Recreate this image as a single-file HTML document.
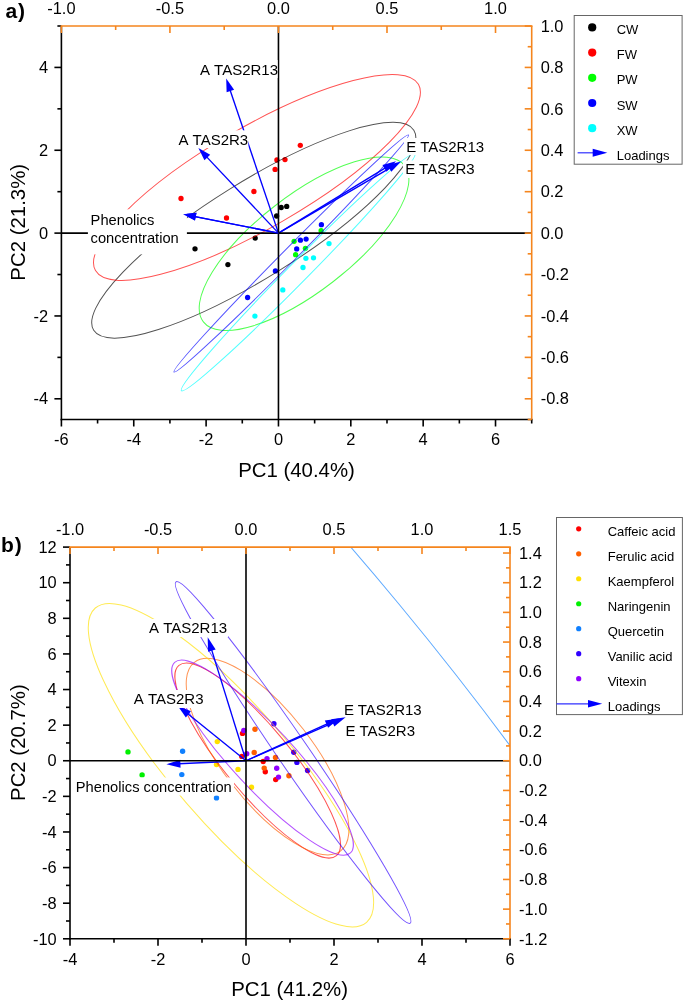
<!DOCTYPE html>
<html><head><meta charset="utf-8"><style>
html,body{margin:0;padding:0;background:#fff;width:685px;height:1003px;overflow:hidden}
svg{display:block}
#w{width:685px;height:1003px;will-change:transform}
text{font-family:"Liberation Sans", sans-serif;fill:#000}
.t{font-size:16.4px}
.ti{font-size:20.4px}
.pl{font-size:21px;font-weight:bold;letter-spacing:0.8px}
.lg{font-size:13px}
.lb{font-size:15px}
.lp{font-size:14.7px}
</style></head><body>
<div id="w">
<svg width="685" height="1003" viewBox="0 0 685 1003">
<rect width="685" height="1003" fill="#fff"/>
<defs><clipPath id="cb"><rect x="70" y="547.1" width="440" height="391.7"/></clipPath><clipPath id="ca"><rect x="61.4" y="26" width="470.3" height="393.5"/></clipPath></defs>
<circle cx="281.2" cy="207.5" r="2.65" fill="#000000"/>
<circle cx="286.7" cy="206.4" r="2.65" fill="#000000"/>
<circle cx="276.6" cy="216" r="2.65" fill="#000000"/>
<circle cx="255.2" cy="238.1" r="2.65" fill="#000000"/>
<circle cx="227.9" cy="264.6" r="2.65" fill="#000000"/>
<circle cx="195" cy="248.8" r="2.65" fill="#000000"/>
<circle cx="300.3" cy="145.3" r="2.65" fill="#ff0000"/>
<circle cx="276.9" cy="160" r="2.65" fill="#ff0000"/>
<circle cx="285" cy="159.6" r="2.65" fill="#ff0000"/>
<circle cx="275.1" cy="169.4" r="2.65" fill="#ff0000"/>
<circle cx="253.9" cy="191.5" r="2.65" fill="#ff0000"/>
<circle cx="181" cy="198.5" r="2.65" fill="#ff0000"/>
<circle cx="226.5" cy="218" r="2.65" fill="#ff0000"/>
<circle cx="321.1" cy="230.7" r="2.65" fill="#00ff00"/>
<circle cx="294.1" cy="241.3" r="2.65" fill="#00ff00"/>
<circle cx="305.4" cy="248.3" r="2.65" fill="#00ff00"/>
<circle cx="295.6" cy="254.7" r="2.65" fill="#00ff00"/>
<circle cx="321.4" cy="224.7" r="2.65" fill="#0000ff"/>
<circle cx="300.4" cy="240.2" r="2.65" fill="#0000ff"/>
<circle cx="306.1" cy="239.1" r="2.65" fill="#0000ff"/>
<circle cx="296.7" cy="248.9" r="2.65" fill="#0000ff"/>
<circle cx="275.4" cy="270.9" r="2.65" fill="#0000ff"/>
<circle cx="247.6" cy="297.5" r="2.65" fill="#0000ff"/>
<circle cx="329" cy="243.6" r="2.65" fill="#00ffff"/>
<circle cx="305.9" cy="258.3" r="2.65" fill="#00ffff"/>
<circle cx="313.5" cy="257.8" r="2.65" fill="#00ffff"/>
<circle cx="303" cy="267.5" r="2.65" fill="#00ffff"/>
<circle cx="282.8" cy="289.9" r="2.65" fill="#00ffff"/>
<circle cx="254.9" cy="316.1" r="2.65" fill="#00ffff"/>
<g clip-path="url(#ca)">
<ellipse cx="253.77" cy="230.23" rx="188.78" ry="47.66" transform="rotate(147.99 253.77 230.23)" fill="none" stroke="#000000" stroke-width="1.0" stroke-opacity="0.68"/>
<ellipse cx="256.96" cy="177.47" rx="186.40" ry="50.65" transform="rotate(150.03 256.96 177.47)" fill="none" stroke="#ff0000" stroke-width="1.0" stroke-opacity="0.68"/>
<ellipse cx="304.05" cy="243.75" rx="127.42" ry="47.80" transform="rotate(142.20 304.05 243.75)" fill="none" stroke="#00ff00" stroke-width="1.0" stroke-opacity="0.68"/>
<ellipse cx="291.27" cy="253.55" rx="166.72" ry="6.69" transform="rotate(134.69 291.27 253.55)" fill="none" stroke="#0000ff" stroke-width="1.0" stroke-opacity="0.68"/>
<ellipse cx="298.18" cy="272.20" rx="166.38" ry="9.96" transform="rotate(134.56 298.18 272.20)" fill="none" stroke="#00ffff" stroke-width="1.0" stroke-opacity="0.68"/>
</g>
<line x1="278.46" y1="233.11" x2="229.72" y2="89.02" stroke="#0000ff" stroke-width="1.35"/>
<path d="M226.20,78.60 L234.11,89.65 L226.62,92.18 Z" fill="#0000ff"/>
<line x1="278.46" y1="233.11" x2="205.94" y2="156.11" stroke="#0000ff" stroke-width="1.35"/>
<path d="M198.40,148.10 L210.19,154.86 L204.44,160.27 Z" fill="#0000ff"/>
<line x1="278.46" y1="233.11" x2="193.79" y2="216.34" stroke="#0000ff" stroke-width="1.35"/>
<path d="M183.00,214.20 L196.52,212.85 L194.98,220.60 Z" fill="#0000ff"/>
<line x1="278.46" y1="233.11" x2="391.07" y2="167.30" stroke="#0000ff" stroke-width="1.35"/>
<path d="M401.00,161.50 L391.31,171.68 L387.38,164.94 Z" fill="#0000ff"/>
<line x1="278.46" y1="233.11" x2="386.19" y2="167.30" stroke="#0000ff" stroke-width="1.35"/>
<path d="M396.00,161.30 L386.51,171.67 L382.45,165.01 Z" fill="#0000ff"/>
<line x1="61.4" y1="233.11" x2="531.7" y2="233.11" stroke="#000" stroke-width="1.6"/>
<line x1="278.46" y1="26" x2="278.46" y2="419.5" stroke="#000" stroke-width="1.6"/>
<rect x="197.5" y="60" width="80.10" height="18.00" fill="#fff"/>
<text x="199.90" y="74.70" class="lb">A <tspan dx="1.1">TAS2R13</tspan></text>
<rect x="176" y="130.3" width="72.30" height="17.70" fill="#fff"/>
<text x="178.40" y="144.50" class="lb">A <tspan dx="1.1">TAS2R3</tspan></text>
<rect x="404" y="138" width="82.00" height="17.00" fill="#fff"/>
<text x="406.30" y="151.70" class="lb">E TAS2R13</text>
<rect x="403" y="160.5" width="74.00" height="17.50" fill="#fff"/>
<text x="405.20" y="174.20" class="lb">E TAS2R3</text>
<rect x="87.9" y="209.3" width="99.00" height="45.00" fill="#fff"/>
<text x="90.60" y="224.50" class="lp">Phenolics</text>
<text x="90.60" y="242.60" class="lp">concentration</text>
<line x1="278.46" y1="233.11" x2="193.79" y2="216.34" stroke="#0000ff" stroke-width="1.35"/>
<path d="M183.00,214.20 L196.52,212.85 L194.98,220.60 Z" fill="#0000ff"/>
<circle cx="242.5" cy="733.4" r="2.7" fill="#ff0000"/>
<circle cx="241.8" cy="756.4" r="2.7" fill="#ff0000"/>
<circle cx="263.2" cy="761.5" r="2.7" fill="#ff0000"/>
<circle cx="265.3" cy="771.7" r="2.7" fill="#ff0000"/>
<circle cx="275.7" cy="779.6" r="2.7" fill="#ff0000"/>
<circle cx="255" cy="729.3" r="2.7" fill="#ff6000"/>
<circle cx="254.2" cy="752.5" r="2.7" fill="#ff6000"/>
<circle cx="275.5" cy="757.4" r="2.7" fill="#ff6000"/>
<circle cx="264.2" cy="768.1" r="2.7" fill="#ff6000"/>
<circle cx="288.9" cy="775.8" r="2.7" fill="#ff6000"/>
<circle cx="217.3" cy="741.6" r="2.7" fill="#ffe000"/>
<circle cx="216.5" cy="764.6" r="2.7" fill="#ffe000"/>
<circle cx="238" cy="769.4" r="2.7" fill="#ffe000"/>
<circle cx="251.5" cy="787.3" r="2.7" fill="#ffe000"/>
<circle cx="128" cy="751.9" r="2.7" fill="#00f000"/>
<circle cx="142.1" cy="774.9" r="2.7" fill="#00f000"/>
<circle cx="182.6" cy="751.3" r="2.7" fill="#1080ff"/>
<circle cx="181.8" cy="774.6" r="2.7" fill="#1080ff"/>
<circle cx="216.5" cy="797.9" r="2.7" fill="#1080ff"/>
<circle cx="273.9" cy="723.7" r="2.7" fill="#3000ff"/>
<circle cx="293.8" cy="752.3" r="2.7" fill="#3000ff"/>
<circle cx="296.9" cy="762.4" r="2.7" fill="#3000ff"/>
<circle cx="307.6" cy="770.5" r="2.7" fill="#3000ff"/>
<circle cx="243.8" cy="730.5" r="2.7" fill="#9000ff"/>
<circle cx="246.7" cy="753.8" r="2.7" fill="#9000ff"/>
<circle cx="267" cy="758.6" r="2.7" fill="#9000ff"/>
<circle cx="276.7" cy="768.3" r="2.7" fill="#9000ff"/>
<circle cx="278.5" cy="777.1" r="2.7" fill="#9000ff"/>
<g clip-path="url(#cb)">
<ellipse cx="257.70" cy="760.52" rx="123.53" ry="32.86" transform="rotate(50.38 257.70 760.52)" fill="none" stroke="#ff0000" stroke-width="1.0" stroke-opacity="0.68"/>
<ellipse cx="267.56" cy="756.62" rx="119.38" ry="44.97" transform="rotate(52.19 267.56 756.62)" fill="none" stroke="#ff6000" stroke-width="1.0" stroke-opacity="0.68"/>
<ellipse cx="230.95" cy="765.15" rx="207.60" ry="58.50" transform="rotate(49.20 230.95 765.15)" fill="none" stroke="#ffe000" stroke-width="1.0" stroke-opacity="0.68"/>
<ellipse cx="193.63" cy="774.60" rx="961.93" ry="266.90" transform="rotate(50.40 193.63 774.60)" fill="none" stroke="#1080ff" stroke-width="1.0" stroke-opacity="0.68"/>
<ellipse cx="293.10" cy="752.50" rx="207.00" ry="15.31" transform="rotate(55.55 293.10 752.50)" fill="none" stroke="#3000ff" stroke-width="1.0" stroke-opacity="0.68"/>
<ellipse cx="262.54" cy="757.66" rx="129.65" ry="30.57" transform="rotate(47.31 262.54 757.66)" fill="none" stroke="#9000ff" stroke-width="1.0" stroke-opacity="0.68"/>
</g>
<line x1="246.00" y1="760.75" x2="211.25" y2="648.66" stroke="#0000ff" stroke-width="1.35"/>
<path d="M207.70,637.20 L215.67,649.39 L208.02,651.76 Z" fill="#0000ff"/>
<line x1="246.00" y1="760.75" x2="186.84" y2="713.03" stroke="#0000ff" stroke-width="1.35"/>
<path d="M177.50,705.50 L190.91,711.18 L185.89,717.40 Z" fill="#0000ff"/>
<line x1="246.00" y1="760.75" x2="178.39" y2="763.77" stroke="#0000ff" stroke-width="1.35"/>
<path d="M166.40,764.30 L180.21,759.68 L180.56,767.67 Z" fill="#0000ff"/>
<line x1="246.00" y1="760.75" x2="334.60" y2="722.10" stroke="#0000ff" stroke-width="1.35"/>
<path d="M345.60,717.30 L334.37,726.56 L331.17,719.23 Z" fill="#0000ff"/>
<line x1="246.00" y1="760.75" x2="328.28" y2="723.36" stroke="#0000ff" stroke-width="1.35"/>
<path d="M339.20,718.40 L328.11,727.83 L324.80,720.55 Z" fill="#0000ff"/>
<line x1="70" y1="760.75" x2="510" y2="760.75" stroke="#000" stroke-width="1.6"/>
<line x1="246" y1="547.1" x2="246" y2="938.8" stroke="#000" stroke-width="1.6"/>
<rect x="146.5" y="619" width="81.50" height="18.00" fill="#fff"/>
<text x="149.00" y="633.10" class="lb">A <tspan dx="1.1">TAS2R13</tspan></text>
<rect x="131.5" y="690" width="73.50" height="18.00" fill="#fff"/>
<text x="133.80" y="703.70" class="lb">A <tspan dx="1.1">TAS2R3</tspan></text>
<rect x="342" y="701" width="81.00" height="15.40" fill="#fff"/>
<text x="343.90" y="714.70" class="lb">E TAS2R13</text>
<rect x="343.5" y="722.5" width="73.50" height="17.50" fill="#fff"/>
<text x="345.50" y="736.20" class="lb">E TAS2R3</text>
<rect x="73.5" y="777.5" width="160.50" height="18.00" fill="#fff"/>
<text x="75.80" y="791.50" class="lp">Phenolics concentration</text>
<line x1="61.4" y1="419.5" x2="61.4" y2="426.5" stroke="#000" stroke-width="1.6"/>
<text x="61.4" y="445.2" text-anchor="middle" class="t">-6</text>
<line x1="97.58" y1="419.5" x2="97.58" y2="423.5" stroke="#000" stroke-width="1.6"/>
<line x1="133.75" y1="419.5" x2="133.75" y2="426.5" stroke="#000" stroke-width="1.6"/>
<text x="133.75" y="445.2" text-anchor="middle" class="t">-4</text>
<line x1="169.93" y1="419.5" x2="169.93" y2="423.5" stroke="#000" stroke-width="1.6"/>
<line x1="206.11" y1="419.5" x2="206.11" y2="426.5" stroke="#000" stroke-width="1.6"/>
<text x="206.11" y="445.2" text-anchor="middle" class="t">-2</text>
<line x1="242.28" y1="419.5" x2="242.28" y2="423.5" stroke="#000" stroke-width="1.6"/>
<line x1="278.46" y1="419.5" x2="278.46" y2="426.5" stroke="#000" stroke-width="1.6"/>
<text x="278.46" y="445.2" text-anchor="middle" class="t">0</text>
<line x1="314.64" y1="419.5" x2="314.64" y2="423.5" stroke="#000" stroke-width="1.6"/>
<line x1="350.82" y1="419.5" x2="350.82" y2="426.5" stroke="#000" stroke-width="1.6"/>
<text x="350.82" y="445.2" text-anchor="middle" class="t">2</text>
<line x1="386.99" y1="419.5" x2="386.99" y2="423.5" stroke="#000" stroke-width="1.6"/>
<line x1="423.17" y1="419.5" x2="423.17" y2="426.5" stroke="#000" stroke-width="1.6"/>
<text x="423.17" y="445.2" text-anchor="middle" class="t">4</text>
<line x1="459.35" y1="419.5" x2="459.35" y2="423.5" stroke="#000" stroke-width="1.6"/>
<line x1="495.52" y1="419.5" x2="495.52" y2="426.5" stroke="#000" stroke-width="1.6"/>
<text x="495.52" y="445.2" text-anchor="middle" class="t">6</text>
<line x1="531.7" y1="419.5" x2="531.7" y2="423.5" stroke="#000" stroke-width="1.6"/>
<line x1="54.4" y1="398.79" x2="61.4" y2="398.79" stroke="#000" stroke-width="1.6"/>
<text x="48.1" y="404.49" text-anchor="end" class="t">-4</text>
<line x1="57.4" y1="357.37" x2="61.4" y2="357.37" stroke="#000" stroke-width="1.6"/>
<line x1="54.4" y1="315.95" x2="61.4" y2="315.95" stroke="#000" stroke-width="1.6"/>
<text x="48.1" y="321.65" text-anchor="end" class="t">-2</text>
<line x1="57.4" y1="274.53" x2="61.4" y2="274.53" stroke="#000" stroke-width="1.6"/>
<line x1="54.4" y1="233.11" x2="61.4" y2="233.11" stroke="#000" stroke-width="1.6"/>
<text x="48.1" y="238.81" text-anchor="end" class="t">0</text>
<line x1="57.4" y1="191.68" x2="61.4" y2="191.68" stroke="#000" stroke-width="1.6"/>
<line x1="54.4" y1="150.26" x2="61.4" y2="150.26" stroke="#000" stroke-width="1.6"/>
<text x="48.1" y="155.96" text-anchor="end" class="t">2</text>
<line x1="57.4" y1="108.84" x2="61.4" y2="108.84" stroke="#000" stroke-width="1.6"/>
<line x1="54.4" y1="67.42" x2="61.4" y2="67.42" stroke="#000" stroke-width="1.6"/>
<text x="48.1" y="73.12" text-anchor="end" class="t">4</text>
<line x1="57.4" y1="26" x2="61.4" y2="26" stroke="#000" stroke-width="1.6"/>
<line x1="60.6" y1="419.5" x2="532.5" y2="419.5" stroke="#000" stroke-width="1.6"/>
<line x1="61.4" y1="26" x2="61.4" y2="420.3" stroke="#000" stroke-width="1.6"/>
<line x1="61.4" y1="26" x2="61.4" y2="33" stroke="#f5851d" stroke-width="1.6"/>
<text x="61.4" y="14" text-anchor="middle" class="t">-1.0</text>
<line x1="115.67" y1="26" x2="115.67" y2="30" stroke="#f5851d" stroke-width="1.6"/>
<line x1="169.93" y1="26" x2="169.93" y2="33" stroke="#f5851d" stroke-width="1.6"/>
<text x="169.93" y="14" text-anchor="middle" class="t">-0.5</text>
<line x1="224.2" y1="26" x2="224.2" y2="30" stroke="#f5851d" stroke-width="1.6"/>
<line x1="278.46" y1="26" x2="278.46" y2="33" stroke="#f5851d" stroke-width="1.6"/>
<text x="278.46" y="14" text-anchor="middle" class="t">0.0</text>
<line x1="332.73" y1="26" x2="332.73" y2="30" stroke="#f5851d" stroke-width="1.6"/>
<line x1="386.99" y1="26" x2="386.99" y2="33" stroke="#f5851d" stroke-width="1.6"/>
<text x="386.99" y="14" text-anchor="middle" class="t">0.5</text>
<line x1="441.26" y1="26" x2="441.26" y2="30" stroke="#f5851d" stroke-width="1.6"/>
<line x1="495.52" y1="26" x2="495.52" y2="33" stroke="#f5851d" stroke-width="1.6"/>
<text x="495.52" y="14" text-anchor="middle" class="t">1.0</text>
<line x1="524.7" y1="26" x2="531.7" y2="26" stroke="#f5851d" stroke-width="1.6"/>
<text x="540.7" y="31.7" text-anchor="start" class="t">1.0</text>
<line x1="527.7" y1="46.71" x2="531.7" y2="46.71" stroke="#f5851d" stroke-width="1.6"/>
<line x1="524.7" y1="67.42" x2="531.7" y2="67.42" stroke="#f5851d" stroke-width="1.6"/>
<text x="540.7" y="73.12" text-anchor="start" class="t">0.8</text>
<line x1="527.7" y1="88.13" x2="531.7" y2="88.13" stroke="#f5851d" stroke-width="1.6"/>
<line x1="524.7" y1="108.84" x2="531.7" y2="108.84" stroke="#f5851d" stroke-width="1.6"/>
<text x="540.7" y="114.54" text-anchor="start" class="t">0.6</text>
<line x1="527.7" y1="129.55" x2="531.7" y2="129.55" stroke="#f5851d" stroke-width="1.6"/>
<line x1="524.7" y1="150.26" x2="531.7" y2="150.26" stroke="#f5851d" stroke-width="1.6"/>
<text x="540.7" y="155.96" text-anchor="start" class="t">0.4</text>
<line x1="527.7" y1="170.97" x2="531.7" y2="170.97" stroke="#f5851d" stroke-width="1.6"/>
<line x1="524.7" y1="191.68" x2="531.7" y2="191.68" stroke="#f5851d" stroke-width="1.6"/>
<text x="540.7" y="197.38" text-anchor="start" class="t">0.2</text>
<line x1="527.7" y1="212.39" x2="531.7" y2="212.39" stroke="#f5851d" stroke-width="1.6"/>
<line x1="524.7" y1="233.11" x2="531.7" y2="233.11" stroke="#f5851d" stroke-width="1.6"/>
<text x="540.7" y="238.81" text-anchor="start" class="t">0.0</text>
<line x1="527.7" y1="253.82" x2="531.7" y2="253.82" stroke="#f5851d" stroke-width="1.6"/>
<line x1="524.7" y1="274.53" x2="531.7" y2="274.53" stroke="#f5851d" stroke-width="1.6"/>
<text x="540.7" y="280.23" text-anchor="start" class="t">-0.2</text>
<line x1="527.7" y1="295.24" x2="531.7" y2="295.24" stroke="#f5851d" stroke-width="1.6"/>
<line x1="524.7" y1="315.95" x2="531.7" y2="315.95" stroke="#f5851d" stroke-width="1.6"/>
<text x="540.7" y="321.65" text-anchor="start" class="t">-0.4</text>
<line x1="527.7" y1="336.66" x2="531.7" y2="336.66" stroke="#f5851d" stroke-width="1.6"/>
<line x1="524.7" y1="357.37" x2="531.7" y2="357.37" stroke="#f5851d" stroke-width="1.6"/>
<text x="540.7" y="363.07" text-anchor="start" class="t">-0.6</text>
<line x1="527.7" y1="378.08" x2="531.7" y2="378.08" stroke="#f5851d" stroke-width="1.6"/>
<line x1="524.7" y1="398.79" x2="531.7" y2="398.79" stroke="#f5851d" stroke-width="1.6"/>
<text x="540.7" y="404.49" text-anchor="start" class="t">-0.8</text>
<line x1="527.7" y1="419.5" x2="531.7" y2="419.5" stroke="#f5851d" stroke-width="1.6"/>
<line x1="60.6" y1="26" x2="532.5" y2="26" stroke="#f5851d" stroke-width="1.6"/>
<line x1="531.7" y1="26" x2="531.7" y2="419.5" stroke="#f5851d" stroke-width="1.6"/>
<line x1="70" y1="938.8" x2="70" y2="945.8" stroke="#000" stroke-width="1.6"/>
<text x="70" y="964.5" text-anchor="middle" class="t">-4</text>
<line x1="114" y1="938.8" x2="114" y2="942.8" stroke="#000" stroke-width="1.6"/>
<line x1="158" y1="938.8" x2="158" y2="945.8" stroke="#000" stroke-width="1.6"/>
<text x="158" y="964.5" text-anchor="middle" class="t">-2</text>
<line x1="202" y1="938.8" x2="202" y2="942.8" stroke="#000" stroke-width="1.6"/>
<line x1="246" y1="938.8" x2="246" y2="945.8" stroke="#000" stroke-width="1.6"/>
<text x="246" y="964.5" text-anchor="middle" class="t">0</text>
<line x1="290" y1="938.8" x2="290" y2="942.8" stroke="#000" stroke-width="1.6"/>
<line x1="334" y1="938.8" x2="334" y2="945.8" stroke="#000" stroke-width="1.6"/>
<text x="334" y="964.5" text-anchor="middle" class="t">2</text>
<line x1="378" y1="938.8" x2="378" y2="942.8" stroke="#000" stroke-width="1.6"/>
<line x1="422" y1="938.8" x2="422" y2="945.8" stroke="#000" stroke-width="1.6"/>
<text x="422" y="964.5" text-anchor="middle" class="t">4</text>
<line x1="466" y1="938.8" x2="466" y2="942.8" stroke="#000" stroke-width="1.6"/>
<line x1="510" y1="938.8" x2="510" y2="945.8" stroke="#000" stroke-width="1.6"/>
<text x="510" y="964.5" text-anchor="middle" class="t">6</text>
<line x1="63" y1="938.8" x2="70" y2="938.8" stroke="#000" stroke-width="1.6"/>
<text x="56.7" y="944.5" text-anchor="end" class="t">-10</text>
<line x1="66" y1="921" x2="70" y2="921" stroke="#000" stroke-width="1.6"/>
<line x1="63" y1="903.19" x2="70" y2="903.19" stroke="#000" stroke-width="1.6"/>
<text x="56.7" y="908.89" text-anchor="end" class="t">-8</text>
<line x1="66" y1="885.39" x2="70" y2="885.39" stroke="#000" stroke-width="1.6"/>
<line x1="63" y1="867.58" x2="70" y2="867.58" stroke="#000" stroke-width="1.6"/>
<text x="56.7" y="873.28" text-anchor="end" class="t">-6</text>
<line x1="66" y1="849.78" x2="70" y2="849.78" stroke="#000" stroke-width="1.6"/>
<line x1="63" y1="831.97" x2="70" y2="831.97" stroke="#000" stroke-width="1.6"/>
<text x="56.7" y="837.67" text-anchor="end" class="t">-4</text>
<line x1="66" y1="814.17" x2="70" y2="814.17" stroke="#000" stroke-width="1.6"/>
<line x1="63" y1="796.36" x2="70" y2="796.36" stroke="#000" stroke-width="1.6"/>
<text x="56.7" y="802.06" text-anchor="end" class="t">-2</text>
<line x1="66" y1="778.56" x2="70" y2="778.56" stroke="#000" stroke-width="1.6"/>
<line x1="63" y1="760.75" x2="70" y2="760.75" stroke="#000" stroke-width="1.6"/>
<text x="56.7" y="766.45" text-anchor="end" class="t">0</text>
<line x1="66" y1="742.95" x2="70" y2="742.95" stroke="#000" stroke-width="1.6"/>
<line x1="63" y1="725.15" x2="70" y2="725.15" stroke="#000" stroke-width="1.6"/>
<text x="56.7" y="730.85" text-anchor="end" class="t">2</text>
<line x1="66" y1="707.34" x2="70" y2="707.34" stroke="#000" stroke-width="1.6"/>
<line x1="63" y1="689.54" x2="70" y2="689.54" stroke="#000" stroke-width="1.6"/>
<text x="56.7" y="695.24" text-anchor="end" class="t">4</text>
<line x1="66" y1="671.73" x2="70" y2="671.73" stroke="#000" stroke-width="1.6"/>
<line x1="63" y1="653.93" x2="70" y2="653.93" stroke="#000" stroke-width="1.6"/>
<text x="56.7" y="659.63" text-anchor="end" class="t">6</text>
<line x1="66" y1="636.12" x2="70" y2="636.12" stroke="#000" stroke-width="1.6"/>
<line x1="63" y1="618.32" x2="70" y2="618.32" stroke="#000" stroke-width="1.6"/>
<text x="56.7" y="624.02" text-anchor="end" class="t">8</text>
<line x1="66" y1="600.51" x2="70" y2="600.51" stroke="#000" stroke-width="1.6"/>
<line x1="63" y1="582.71" x2="70" y2="582.71" stroke="#000" stroke-width="1.6"/>
<text x="56.7" y="588.41" text-anchor="end" class="t">10</text>
<line x1="66" y1="564.9" x2="70" y2="564.9" stroke="#000" stroke-width="1.6"/>
<line x1="63" y1="547.1" x2="70" y2="547.1" stroke="#000" stroke-width="1.6"/>
<text x="56.7" y="552.8" text-anchor="end" class="t">12</text>
<line x1="69.2" y1="938.8" x2="510.8" y2="938.8" stroke="#000" stroke-width="1.6"/>
<line x1="70" y1="547.1" x2="70" y2="939.6" stroke="#000" stroke-width="1.6"/>
<line x1="70" y1="547.1" x2="70" y2="554.1" stroke="#f5851d" stroke-width="1.6"/>
<text x="70" y="535.1" text-anchor="middle" class="t">-1.0</text>
<line x1="114" y1="547.1" x2="114" y2="551.1" stroke="#f5851d" stroke-width="1.6"/>
<line x1="158" y1="547.1" x2="158" y2="554.1" stroke="#f5851d" stroke-width="1.6"/>
<text x="158" y="535.1" text-anchor="middle" class="t">-0.5</text>
<line x1="202" y1="547.1" x2="202" y2="551.1" stroke="#f5851d" stroke-width="1.6"/>
<line x1="246" y1="547.1" x2="246" y2="554.1" stroke="#f5851d" stroke-width="1.6"/>
<text x="246" y="535.1" text-anchor="middle" class="t">0.0</text>
<line x1="290" y1="547.1" x2="290" y2="551.1" stroke="#f5851d" stroke-width="1.6"/>
<line x1="334" y1="547.1" x2="334" y2="554.1" stroke="#f5851d" stroke-width="1.6"/>
<text x="334" y="535.1" text-anchor="middle" class="t">0.5</text>
<line x1="378" y1="547.1" x2="378" y2="551.1" stroke="#f5851d" stroke-width="1.6"/>
<line x1="422" y1="547.1" x2="422" y2="554.1" stroke="#f5851d" stroke-width="1.6"/>
<text x="422" y="535.1" text-anchor="middle" class="t">1.0</text>
<line x1="466" y1="547.1" x2="466" y2="551.1" stroke="#f5851d" stroke-width="1.6"/>
<line x1="510" y1="547.1" x2="510" y2="554.1" stroke="#f5851d" stroke-width="1.6"/>
<text x="510" y="535.1" text-anchor="middle" class="t">1.5</text>
<line x1="503" y1="553.03" x2="510" y2="553.03" stroke="#f5851d" stroke-width="1.6"/>
<text x="519" y="558.73" text-anchor="start" class="t">1.4</text>
<line x1="506" y1="567.87" x2="510" y2="567.87" stroke="#f5851d" stroke-width="1.6"/>
<line x1="503" y1="582.71" x2="510" y2="582.71" stroke="#f5851d" stroke-width="1.6"/>
<text x="519" y="588.41" text-anchor="start" class="t">1.2</text>
<line x1="506" y1="597.55" x2="510" y2="597.55" stroke="#f5851d" stroke-width="1.6"/>
<line x1="503" y1="612.38" x2="510" y2="612.38" stroke="#f5851d" stroke-width="1.6"/>
<text x="519" y="618.08" text-anchor="start" class="t">1.0</text>
<line x1="506" y1="627.22" x2="510" y2="627.22" stroke="#f5851d" stroke-width="1.6"/>
<line x1="503" y1="642.06" x2="510" y2="642.06" stroke="#f5851d" stroke-width="1.6"/>
<text x="519" y="647.76" text-anchor="start" class="t">0.8</text>
<line x1="506" y1="656.89" x2="510" y2="656.89" stroke="#f5851d" stroke-width="1.6"/>
<line x1="503" y1="671.73" x2="510" y2="671.73" stroke="#f5851d" stroke-width="1.6"/>
<text x="519" y="677.43" text-anchor="start" class="t">0.6</text>
<line x1="506" y1="686.57" x2="510" y2="686.57" stroke="#f5851d" stroke-width="1.6"/>
<line x1="503" y1="701.41" x2="510" y2="701.41" stroke="#f5851d" stroke-width="1.6"/>
<text x="519" y="707.11" text-anchor="start" class="t">0.4</text>
<line x1="506" y1="716.24" x2="510" y2="716.24" stroke="#f5851d" stroke-width="1.6"/>
<line x1="503" y1="731.08" x2="510" y2="731.08" stroke="#f5851d" stroke-width="1.6"/>
<text x="519" y="736.78" text-anchor="start" class="t">0.2</text>
<line x1="506" y1="745.92" x2="510" y2="745.92" stroke="#f5851d" stroke-width="1.6"/>
<line x1="503" y1="760.75" x2="510" y2="760.75" stroke="#f5851d" stroke-width="1.6"/>
<text x="519" y="766.45" text-anchor="start" class="t">0.0</text>
<line x1="506" y1="775.59" x2="510" y2="775.59" stroke="#f5851d" stroke-width="1.6"/>
<line x1="503" y1="790.43" x2="510" y2="790.43" stroke="#f5851d" stroke-width="1.6"/>
<text x="519" y="796.13" text-anchor="start" class="t">-0.2</text>
<line x1="506" y1="805.27" x2="510" y2="805.27" stroke="#f5851d" stroke-width="1.6"/>
<line x1="503" y1="820.1" x2="510" y2="820.1" stroke="#f5851d" stroke-width="1.6"/>
<text x="519" y="825.8" text-anchor="start" class="t">-0.4</text>
<line x1="506" y1="834.94" x2="510" y2="834.94" stroke="#f5851d" stroke-width="1.6"/>
<line x1="503" y1="849.78" x2="510" y2="849.78" stroke="#f5851d" stroke-width="1.6"/>
<text x="519" y="855.48" text-anchor="start" class="t">-0.6</text>
<line x1="506" y1="864.61" x2="510" y2="864.61" stroke="#f5851d" stroke-width="1.6"/>
<line x1="503" y1="879.45" x2="510" y2="879.45" stroke="#f5851d" stroke-width="1.6"/>
<text x="519" y="885.15" text-anchor="start" class="t">-0.8</text>
<line x1="506" y1="894.29" x2="510" y2="894.29" stroke="#f5851d" stroke-width="1.6"/>
<line x1="503" y1="909.13" x2="510" y2="909.13" stroke="#f5851d" stroke-width="1.6"/>
<text x="519" y="914.83" text-anchor="start" class="t">-1.0</text>
<line x1="506" y1="923.96" x2="510" y2="923.96" stroke="#f5851d" stroke-width="1.6"/>
<line x1="503" y1="938.8" x2="510" y2="938.8" stroke="#f5851d" stroke-width="1.6"/>
<text x="519" y="944.5" text-anchor="start" class="t">-1.2</text>
<line x1="69.2" y1="547.1" x2="510.8" y2="547.1" stroke="#f5851d" stroke-width="1.6"/>
<line x1="510" y1="547.1" x2="510" y2="938.8" stroke="#f5851d" stroke-width="1.6"/>
<rect x="574.2" y="15.5" width="107.9" height="148.7" fill="#fff" stroke="#666" stroke-width="1"/>
<circle cx="592.2" cy="27.40" r="4.1" fill="#000"/>
<text x="616.7" y="33.90" class="lg">CW</text>
<circle cx="592.2" cy="52.60" r="4.1" fill="#ff0000"/>
<text x="616.7" y="59.10" class="lg">FW</text>
<circle cx="592.2" cy="77.80" r="4.1" fill="#00ff00"/>
<text x="616.7" y="84.30" class="lg">PW</text>
<circle cx="592.2" cy="103.00" r="4.1" fill="#0000ff"/>
<text x="616.7" y="109.50" class="lg">SW</text>
<circle cx="592.2" cy="128.20" r="4.1" fill="#00ffff"/>
<text x="616.7" y="134.70" class="lg">XW</text>
<line x1="577.6" y1="152.8" x2="594" y2="152.8" stroke="#3030ff" stroke-width="1.2"/>
<path d="M607.3,152.8 L592.7,148.8 L592.7,156.8 Z" fill="#0000ff"/>
<text x="616.7" y="159.80" class="lg">Loadings</text>
<rect x="556.5" y="517.5" width="125.9" height="197.1" fill="#fff" stroke="#666" stroke-width="1"/>
<circle cx="578.7" cy="528.80" r="2.6" fill="#ff0000"/>
<text x="607.7" y="535.70" class="lg">Caffeic acid</text>
<circle cx="578.7" cy="553.78" r="2.6" fill="#ff6000"/>
<text x="607.7" y="560.68" class="lg">Ferulic acid</text>
<circle cx="578.7" cy="578.76" r="2.6" fill="#ffe000"/>
<text x="607.7" y="585.66" class="lg">Kaempferol</text>
<circle cx="578.7" cy="603.74" r="2.6" fill="#00f000"/>
<text x="607.7" y="610.64" class="lg">Naringenin</text>
<circle cx="578.7" cy="628.72" r="2.6" fill="#1080ff"/>
<text x="607.7" y="635.62" class="lg">Quercetin</text>
<circle cx="578.7" cy="653.70" r="2.6" fill="#3000ff"/>
<text x="607.7" y="660.60" class="lg">Vanilic acid</text>
<circle cx="578.7" cy="678.68" r="2.6" fill="#9000ff"/>
<text x="607.7" y="685.58" class="lg">Vitexin</text>
<line x1="556.5" y1="703.8" x2="592" y2="703.8" stroke="#3030ff" stroke-width="1.2"/>
<path d="M602.2,703.8 L588,700.0 L588,707.5999999999999 Z" fill="#0000ff"/>
<text x="607.7" y="710.80" class="lg">Loadings</text>
<text x="5.5" y="17.6" class="pl">a)</text>
<text x="1" y="552.4" class="pl">b)</text>
<text x="296.5" y="477.1" text-anchor="middle" class="ti">PC1 (40.4%)</text>
<text x="289.6" y="995.7" text-anchor="middle" class="ti">PC1 (41.2%)</text>
<text transform="translate(25.2,222.3) rotate(-90)" text-anchor="middle" class="ti">PC2 (21.3%)</text>
<text transform="translate(24.8,742.6) rotate(-90)" text-anchor="middle" class="ti">PC2 (20.7%)</text>
</svg>
</div>
</body></html>
